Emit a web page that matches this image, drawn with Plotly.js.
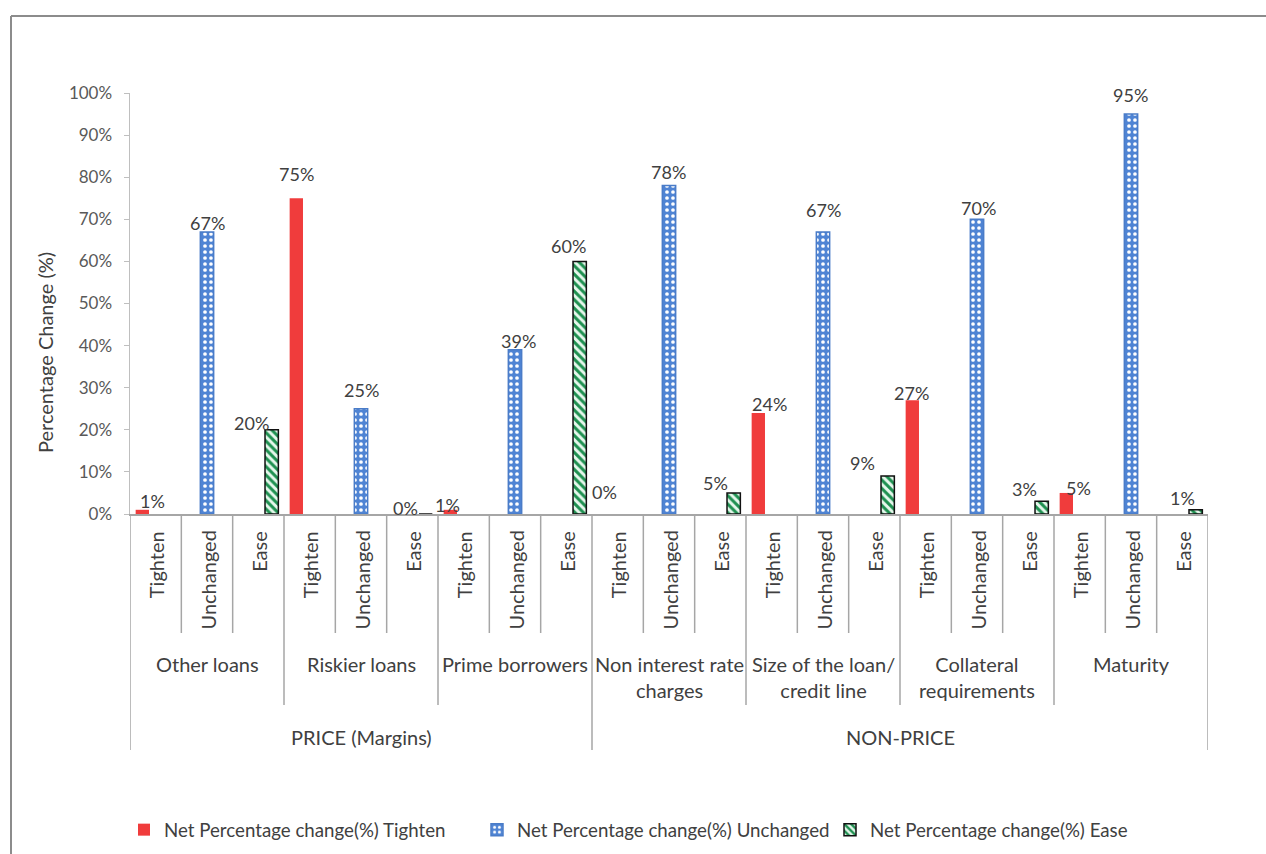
<!DOCTYPE html>
<html>
<head>
<meta charset="utf-8">
<script src="https://cdn.plot.ly/plotly-3.0.1.min.js"></script>
<style>
  html, body { margin: 0; padding: 0; background: #ffffff; }
  #chart { width: 1266px; height: 854px; }
</style>
</head>
<body>
<div id="chart"></div>
<script>
// ---- data ----
const groups = ['Other loans', 'Riskier loans', 'Prime borrowers', 'Non interest rate<br>charges',
                'Size of the loan/<br>credit line', 'Collateral<br>requirements', 'Maturity'];
const sections = ['PRICE (Margins)', 'NON-PRICE'];
const groupsPerSection = [3, 4];
const stances = ['Tighten', 'Unchanged', 'Ease'];
const seriesNames = ['Net Percentage change(%) Tighten', 'Net Percentage change(%) Unchanged',
                     'Net Percentage change(%) Ease'];
const tightenValues   = [0.01, 0.75, 0.01, 0.00, 0.24, 0.27, 0.05];
const unchangedValues = [0.67, 0.25, 0.39, 0.78, 0.67, 0.70, 0.95];
const easeValues      = [0.20, 0.00, 0.60, 0.05, 0.09, 0.03, 0.01];
const seriesValues = [tightenValues, unchangedValues, easeValues];

// ---- layout geometry (pixels of the 1266x854 page) ----
const W = 1266, H = 854;
const plotLeft = 130, plotRight = 1208, plotTop = 93, plotBottom = 514;
const px = p => (p - plotLeft) / (plotRight - plotLeft);   // page x -> paper x
const py = p => (plotBottom - p) / (plotBottom - plotTop); // page y -> paper y
const bargap = 0.22;
const barFrac = (1 - bargap) / 3;

// per-label nudges in pixels (slot order), so labels sit where they were placed
const labelShiftX = [10, 0, -20, 0, 0, -20, -3, 3, -11, 0, -1, -18, 11, 0, -25, -1, 1, -17, 12, -1, -13];
const labelShiftY = [9, 9, 7, 24, 19, 6, 5, 9, 15, 22, 14, 10, 9, 22, 13, 7, 11, 12, 5, 19, 12];

const FONT = 'Lato, "Liberation Sans", sans-serif';
const TEXT = '#404040';

// ---- bar styles per series ----
const markers = [
  { color: '#F03C3C', line: { width: 0 } },
  { color: '#5A8CD8', line: { color: '#4A7CC8', width: 1.5 },
    pattern: { shape: '.', fgcolor: '#FFFFFF', bgcolor: '#4F84D4', size: 6, solidity: 0.3, fillmode: 'replace' } },
  { color: '#1E9050', line: { color: '#111111', width: 1.5 },
    pattern: { shape: '\\', fgcolor: '#1E9050', bgcolor: '#E6F7EC', size: 6, solidity: 0.5 } }
];

// each series sits in its own third of a category slot: Tighten left, Unchanged centre, Ease right
const traces = seriesValues.map((vals, s) => ({
  type: 'bar',
  name: seriesNames[s],
  x: vals.map((_, g) => g * 3 + s),
  y: vals,
  width: barFrac,
  offset: (s - 1.5) * barFrac,
  marker: markers[s],
  hoverinfo: 'skip'
}));

// ---- annotations: value labels, category levels, axis title ----
const annotations = [];
seriesValues.forEach((vals, s) => {
  vals.forEach((v, g) => {
    const slot = g * 3 + s;
    annotations.push({
      xref: 'x', yref: 'y', x: slot + (s - 1) * barFrac, y: v,
      text: Math.round(v * 100) + '%', showarrow: false,
      xanchor: 'center', yanchor: 'middle',
      xshift: labelShiftX[slot], yshift: labelShiftY[slot],
      font: { family: FONT, size: 18, color: TEXT }
    });
  });
});

const nSlots = groups.length * stances.length;
for (let i = 0; i < nSlots; i++) {
  annotations.push({
    xref: 'x', yref: 'paper', x: i, y: py(529),
    text: stances[i % 3], textangle: -90, showarrow: false,
    xanchor: 'center', yanchor: 'top',
    font: { family: FONT, size: 20, color: TEXT }
  });
}
groups.forEach((g, k) => {
  annotations.push({
    xref: 'x', yref: 'paper', x: k * 3 + 1, y: py(650),
    text: g, showarrow: false, xanchor: 'center', yanchor: 'top',
    font: { family: FONT, size: 20, color: TEXT }
  });
});
let startGroup = 0;
const sectionEdges = [-0.5];
sections.forEach((name, k) => {
  const a = startGroup * 3 - 0.5, b = (startGroup + groupsPerSection[k]) * 3 - 0.5;
  annotations.push({
    xref: 'x', yref: 'paper', x: (a + b) / 2, y: py(737),
    text: name, showarrow: false, xanchor: 'center', yanchor: 'middle',
    font: { family: FONT, size: 20, color: TEXT }
  });
  startGroup += groupsPerSection[k];
  sectionEdges.push(b);
});
annotations.push({
  xref: 'paper', yref: 'paper', x: px(45), y: py(353),
  text: 'Percentage Change (%)', textangle: -90, showarrow: false,
  xanchor: 'center', yanchor: 'middle',
  font: { family: FONT, size: 20, color: TEXT }
});

// ---- separator lines under the category axis ----
const SEP = '#A6A6A6';
const shapes = [];
for (let e = 0; e <= nSlots; e++) {
  const xe = e - 0.5;
  let bottom;
  if (sectionEdges.includes(xe)) bottom = 750;
  else if (e % 3 === 0) bottom = 705;
  else bottom = 633;
  shapes.push({
    type: 'line', xref: 'x', yref: 'paper', x0: xe, x1: xe, y0: 0, y1: py(bottom),
    line: { color: SEP, width: 1.5 }
  });
}
// chart frame
shapes.push({ type: 'line', xref: 'paper', yref: 'paper', x0: px(11), x1: px(W + 20), y0: py(16), y1: py(16),
              line: { color: '#8C8C8C', width: 2 } });
shapes.push({ type: 'line', xref: 'paper', yref: 'paper', x0: px(11), x1: px(11), y0: py(16), y1: py(H + 20),
              line: { color: '#8C8C8C', width: 2 } });

const layout = {
  width: W, height: H,
  margin: { l: plotLeft, r: W - plotRight, t: plotTop, b: H - plotBottom, pad: 0, autoexpand: false },
  paper_bgcolor: '#FFFFFF', plot_bgcolor: '#FFFFFF',
  barmode: 'overlay',
  showlegend: true,
  legend: {
    orientation: 'h', xref: 'container', yref: 'container',
    x: 124 / W, y: 1 - 830 / H, xanchor: 'left', yanchor: 'middle',
    font: { family: FONT, size: 18.7, color: TEXT },
    entrywidth: 308, entrywidthmode: 'pixels', traceorder: 'normal'
  },
  xaxis: {
    range: [-0.5, nSlots - 0.5], showticklabels: false, ticks: '', showgrid: false,
    zeroline: false, showline: true, linecolor: SEP, linewidth: 1.5, fixedrange: true
  },
  yaxis: {
    range: [0, 1], dtick: 0.1, tickformat: '.0%', ticks: 'outside', ticklen: 5,
    tickcolor: '#BFBFBF', showline: true, linecolor: '#BFBFBF', linewidth: 1.5,
    showgrid: false, zeroline: false, ticklabelstandoff: 8,
    tickfont: { family: FONT, size: 17, color: '#595959' }, fixedrange: true
  },
  annotations: annotations,
  shapes: shapes
};

Plotly.newPlot('chart', traces, layout, { displayModeBar: false, staticPlot: true });
</script>
</body>
</html>
